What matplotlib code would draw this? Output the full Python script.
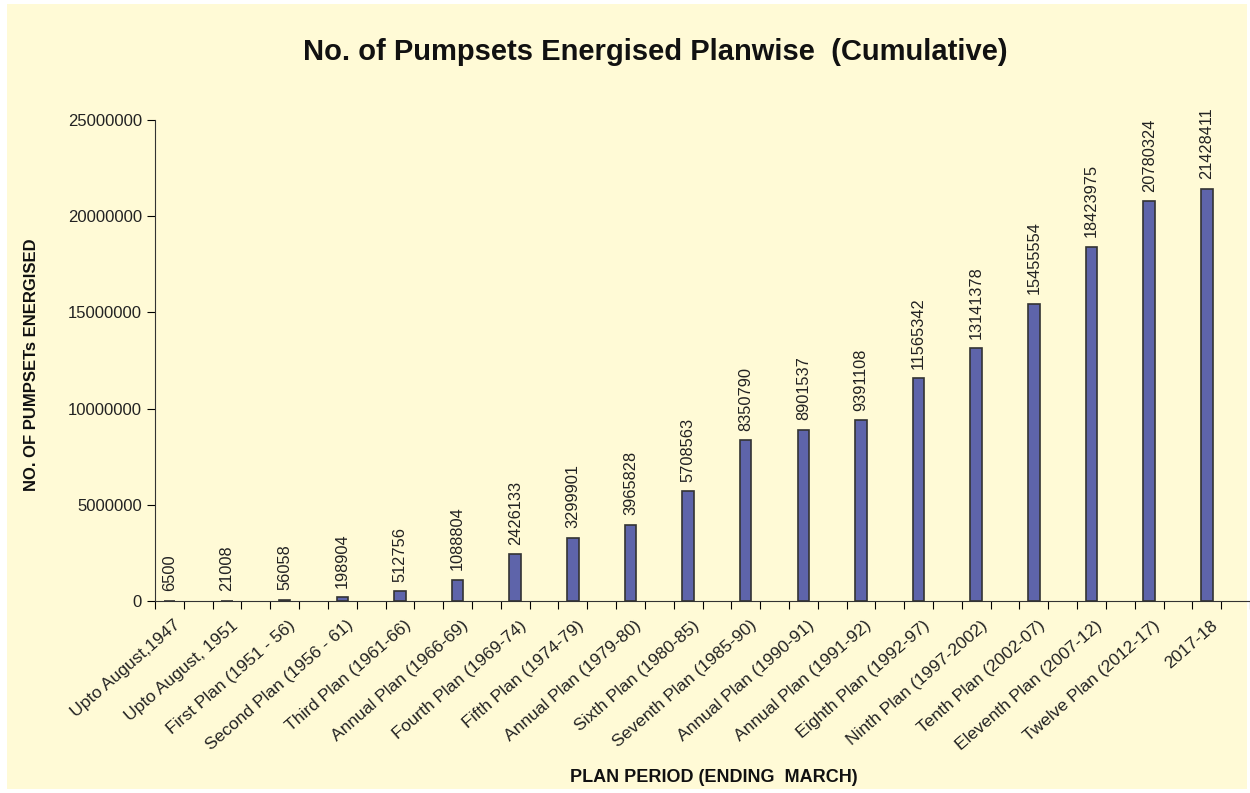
import matplotlib.pyplot as plt
import matplotlib.transforms as mtransforms
from matplotlib.patches import Rectangle

plt.rcParams['font.family'] = ['Liberation Sans', 'DejaVu Sans']

# plan periods and cumulative pumpsets energised
plans = ["Upto August,1947", "Upto August, 1951", "First Plan (1951 - 56)",
         "Second Plan (1956 - 61)", "Third Plan (1961-66)", "Annual Plan (1966-69)",
         "Fourth Plan (1969-74)", "Fifth Plan (1974-79)", "Annual Plan (1979-80)",
         "Sixth Plan (1980-85)", "Seventh Plan (1985-90)", "Annual Plan (1990-91)",
         "Annual Plan (1991-92)", "Eighth Plan (1992-97)", "Ninth Plan (1997-2002)",
         "Tenth Plan (2002-07)", "Eleventh Plan (2007-12)", "Twelve Plan (2012-17)",
         "2017-18"]
pumpsets = [6500, 21008, 56058, 198904, 512756, 1088804, 2426133, 3299901,
            3965828, 5708563, 8350790, 8901537, 9391108, 11565342, 13141378,
            15455554, 18423975, 20780324, 21428411]

bg = "#fffad6"

fig = plt.figure(figsize=(12.5, 7.93), dpi=100, facecolor="white")
fig.patches.append(Rectangle((7 / 1250, 4 / 793), 1240 / 1250, 785 / 793,
                             transform=fig.transFigure, facecolor=bg,
                             edgecolor="none", zorder=-1))

ax = fig.add_axes([0.124, 0.2421, 0.876, 0.6066])
ax.patch.set_alpha(0)

x = list(range(len(plans)))
ax.bar(x, pumpsets, width=0.2, color="#5e64aa", edgecolor="#333333", linewidth=1.2)

for xi, v in zip(x, pumpsets):
    ax.text(xi, v + 500000, str(v), rotation=90, ha="center", va="bottom",
            fontsize=11.8, color="#222222")

ax.set_xlim(-0.25, 18.75)
ax.set_ylim(0, 25000000)
ax.set_yticks([0, 5000000, 10000000, 15000000, 20000000, 25000000])
ax.set_yticklabels(["0", "5000000", "10000000", "15000000", "20000000", "25000000"],
                   fontsize=12, color="#222222")

# half-category tick marks on the x axis, labels at bar positions
ax.set_xticks([i * 0.5 - 0.25 for i in range(39)])
ax.set_xticklabels([])
ax.set_xticks(x, minor=True)
ax.set_xticklabels(plans, minor=True, rotation=41, ha="right",
                   rotation_mode="anchor", fontsize=12.6, color="#222222")
ax.tick_params(axis="x", which="minor", length=0, pad=12)
ax.tick_params(axis="x", which="major", length=6, direction="out")
ax.tick_params(axis="y", length=6, direction="out")
shift = mtransforms.ScaledTranslation(4 / 100, 0, fig.dpi_scale_trans)
for lbl in ax.get_xticklabels(minor=True):
    lbl.set_transform(lbl.get_transform() + shift)

for s in ["top", "right"]:
    ax.spines[s].set_visible(False)
ax.spines["left"].set_color("#333333")
ax.spines["bottom"].set_color("#333333")

fig.text(0.524, 0.934, "No. of Pumpsets Energised Planwise  (Cumulative)",
         ha="center", va="center", fontsize=21, fontweight="bold", color="#111111")
fig.text(0.025, 0.54, "NO. OF PUMPSETs ENERGISED", rotation=90, ha="center",
         va="center", fontsize=12, fontweight="bold", color="#111111")
fig.text(0.571, 0.019, "PLAN PERIOD (ENDING  MARCH)", ha="center", va="center",
         fontsize=13, fontweight="bold", color="#111111")

fig.savefig("out.png", dpi=100, facecolor="white")
